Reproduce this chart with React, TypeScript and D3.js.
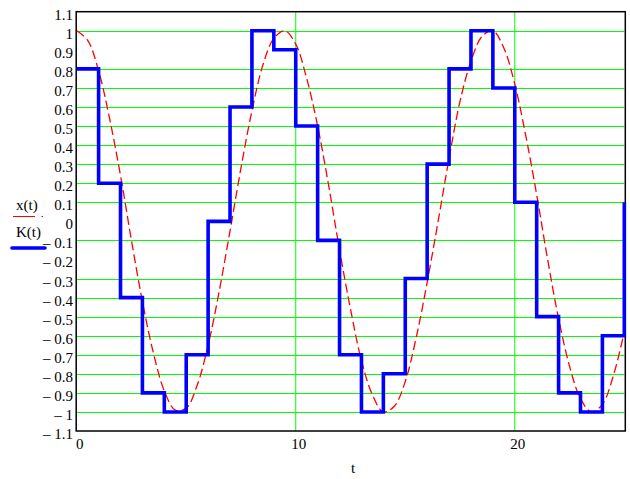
import React from "react";
import * as d3 from "d3";

// Sampled continuous signal x(t), every 0.5 in t from 0 to 25
const xTimes: number[] = d3.range(0, 25.001, 0.5);
const xValues: number[] = [
  1.0, 0.95, 0.79, 0.54, 0.24, -0.1, -0.42, -0.69, -0.89, -0.99, -0.98,
  -0.86, -0.65, -0.37, -0.05, 0.28, 0.58, 0.82, 0.96, 1.0, 0.93,
  0.75, 0.5, 0.19, -0.15, -0.46, -0.73, -0.91, -1.0, -0.97, -0.84,
  -0.61, -0.32, 0.0, 0.33, 0.63, 0.84, 0.97, 1.0, 0.91, 0.72,
  0.45, 0.14, -0.2, -0.51, -0.76, -0.93, -1.0, -0.96, -0.81, -0.58,
];

// Quantised step signal K(t), held constant from each integer t
const kTimes: number[] = d3.range(0, 26);
const kValues: number[] = [
  0.8, 0.2, -0.4, -0.9, -1, -0.7, 0, 0.6, 1, 0.9, 0.5, -0.1, -0.7, -1, -0.8,
  -0.3, 0.3, 0.8, 1, 0.7, 0.1, -0.5, -0.9, -1, -0.6, 0.1,
];

// Axis labels and grid positions
const yTickValues: number[] = d3.range(-11, 12).map((v) => v / 10);
const yGridValues: number[] = [
  1, 0.8, 0.7, 0.6, 0.5, 0.4, 0.3, 0.2, 0.1, -0.1, -0.3, -0.4, -0.5, -0.6,
  -0.7, -0.8, -0.9, -1,
];
const xTickValues: number[] = [0, 10, 20];
const xGridValues: number[] = [10, 20];

const W = 630;
const H = 479;
const left = 76.7;
const right = 624.3;
const top = 11.7;
const bottom = 431;

const FONT = "Liberation Serif, Times New Roman, serif";

function fmtY(v: number): string {
  const r = Math.round(v * 10) / 10;
  if (r === 0) return "0";
  const abs = Math.abs(r);
  const s = abs === 1 ? "1" : abs.toString();
  return r < 0 ? "\u2013 " + s : s;
}

export default function App() {
  const x = d3.scaleLinear().domain([0, 25]).range([left, right]);
  const y = d3.scaleLinear().domain([-1.1, 1.1]).range([bottom, top]);

  const xLine = d3
    .line<number>()
    .x((_, i) => x(xTimes[i]))
    .y((d) => y(d))
    .curve(d3.curveCatmullRom.alpha(0.5));

  const kLine = d3
    .line<number>()
    .x((_, i) => x(kTimes[i]))
    .y((d) => y(d))
    .curve(d3.curveStepAfter);

  return (
    <svg
      width={W}
      height={H}
      style={{ position: "absolute", left: 0, top: 0, background: "#fff" }}
    >
      {/* grid */}
      {yGridValues.map((v) => (
        <line
          key={"gy" + v}
          x1={left}
          x2={right}
          y1={Math.round(y(v)) + 0.5}
          y2={Math.round(y(v)) + 0.5}
          stroke="#00ff00"
          strokeWidth={1}
        />
      ))}
      {xGridValues.map((v) => (
        <line
          key={"gx" + v}
          x1={x(v)}
          x2={x(v)}
          y1={top}
          y2={bottom}
          stroke="#00ff00"
          strokeWidth={1}
        />
      ))}

      {/* frame */}
      <rect
        x={left - 0.5}
        y={top}
        width={right - left + 1.5}
        height={bottom - top}
        fill="none"
        stroke="#000"
        strokeWidth={1.5}
      />

      {/* continuous signal */}
      <path
        d={xLine(xValues) || ""}
        fill="none"
        stroke="#ff0000"
        strokeWidth={1.3}
        strokeDasharray="9,4"
      />

      {/* step signal */}
      <path
        d={kLine(kValues) || ""}
        fill="none"
        stroke="#0000ff"
        strokeWidth={3.6}
        strokeLinejoin="miter"
      />

      {/* y tick labels */}
      {yTickValues.map((v) => (
        <text
          key={"ty" + v}
          x={73}
          y={y(v) + 3}
          textAnchor="end"
          dominantBaseline="central"
          fontFamily={FONT}
          fontSize={15}
          fill="#000"
        >
          {fmtY(v)}
        </text>
      ))}

      {/* x tick labels */}
      {xTickValues.map((v) => (
        <text
          key={"tx" + v}
          x={x(v) + 3}
          y={444}
          textAnchor="middle"
          dominantBaseline="central"
          fontFamily={FONT}
          fontSize={15}
          fill="#000"
        >
          {v}
        </text>
      ))}
      <text
        x={353}
        y={468}
        textAnchor="middle"
        dominantBaseline="central"
        fontFamily={FONT}
        fontSize={15}
        fill="#000"
      >
        t
      </text>

      {/* legend */}
      <text x={16} y={210} fontFamily={FONT} fontSize={15} fill="#000">
        x(t)
      </text>
      <line x1={13} x2={35} y1={216.5} y2={216.5} stroke="#ff0000" strokeWidth={1} />
      <line x1={41.5} x2={43} y1={216.5} y2={216.5} stroke="#ff0000" strokeWidth={1} />
      <text x={16} y={237} fontFamily={FONT} fontSize={15} fill="#000">
        K(t)
      </text>
      <line
        x1={12}
        x2={45}
        y1={248}
        y2={248}
        stroke="#0000ff"
        strokeWidth={3.6}
        strokeLinecap="round"
      />
    </svg>
  );
}
